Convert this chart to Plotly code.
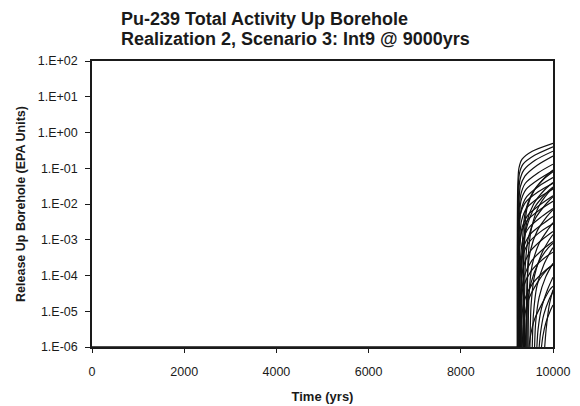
import plotly.graph_objects as go

TITLE_LINE_1 = "Pu-239 Total Activity Up Borehole"
TITLE_LINE_2 = "Realization 2, Scenario 3: Int9 @ 9000yrs"
X_TITLE = "Time (yrs)"
Y_TITLE = "Release Up Borehole (EPA Units)"

X_TICKS = [0, 2000, 4000, 6000, 8000, 10000]
Y_TICK_VALUES = [1e-6, 1e-5, 1e-4, 1e-3, 1e-2, 1e-1, 1e0, 1e1, 1e2]
Y_TICK_LABELS = ["1.E-06", "1.E-05", "1.E-04", "1.E-03", "1.E-02",
                 "1.E-01", "1.E+00", "1.E+01", "1.E+02"]

BASELINE_TIMES = [0, 9300]
BASELINE_VALUES = [1e-6, 1e-6]

CURVE_TIMES = [
    [9225, 9235, 9260, 9330, 9550, 10000],
    [9230, 9242, 9270, 9350, 9600, 10000],
    [9235, 9248, 9280, 9370, 9620, 10000],
    [9240, 9255, 9290, 9390, 9650, 10000],
    [9245, 9260, 9300, 9400, 9680, 10000],
    [9250, 9265, 9305, 9420, 9700, 10000],
    [9255, 9270, 9310, 9430, 9700, 10000],
    [9235, 9250, 9290, 9400, 9680, 10000],
    [9260, 9275, 9320, 9440, 9720, 10000],
    [9265, 9280, 9330, 9460, 9740, 10000],
    [9245, 9262, 9310, 9440, 9720, 10000],
    [9270, 9290, 9340, 9480, 9760, 10000],
    [9275, 9295, 9350, 9500, 9780, 10000],
    [9250, 9270, 9330, 9480, 9760, 10000],
    [9280, 9300, 9360, 9520, 9800, 10000],
    [9285, 9305, 9370, 9540, 9820, 10000],
    [9260, 9285, 9350, 9520, 9800, 10000],
    [9290, 9315, 9390, 9560, 9840, 10000],
    [9320, 9340, 9400, 9550, 9800, 10000],
    [9350, 9370, 9430, 9580, 9820, 10000],
    [9380, 9400, 9470, 9620, 9850, 10000],
    [9420, 9440, 9510, 9660, 9870, 10000],
    [9300, 9330, 9420, 9600, 9850, 10000],
    [9460, 9480, 9550, 9700, 9900, 10000],
    [9500, 9525, 9600, 9750, 9920, 10000],
    [9550, 9575, 9650, 9800, 9940, 10000],
    [9600, 9625, 9700, 9840, 9960, 10000],
    [9650, 9675, 9750, 9880, 10000],
    [9700, 9730, 9800, 9920, 10000],
    [9750, 9780, 9850, 9950, 10000],
    [9400, 9430, 9520, 9700, 9900, 10000],
    [9330, 9360, 9450, 9650, 9880, 10000],
    [9480, 9510, 9600, 9780, 9930, 10000],
    [9820, 9850, 9920, 10000],
    [9360, 9380, 9440, 9600, 9850, 10000],
    [9440, 9460, 9530, 9680, 9890, 10000],
]

CURVE_VALUES = [
    [1e-6, 3e-2, 1.0e-1, 1.8e-1, 3.0e-1, 5.0e-1],
    [1e-6, 2e-2, 7e-2, 1.3e-1, 2.3e-1, 4.0e-1],
    [1e-6, 1.2e-2, 4.5e-2, 9e-2, 1.7e-1, 3.0e-1],
    [1e-6, 8e-3, 3e-2, 6e-2, 1.2e-1, 2.2e-1],
    [1e-6, 5e-3, 1.8e-2, 3.8e-2, 7.5e-2, 1.3e-1],
    [1e-6, 3e-3, 1.2e-2, 2.6e-2, 5e-2, 8.5e-2],
    [1e-6, 2e-3, 7e-3, 1.6e-2, 3.2e-2, 5.5e-2],
    [1e-6, 1.5e-3, 5e-3, 1.1e-2, 2.2e-2, 3.8e-2],
    [1e-6, 1e-3, 3.5e-3, 8e-3, 1.6e-2, 2.6e-2],
    [1e-6, 6e-4, 2.2e-3, 5e-3, 1e-2, 1.7e-2],
    [1e-6, 4e-4, 1.5e-3, 3.5e-3, 7e-3, 1.2e-2],
    [1e-6, 2.5e-4, 9e-4, 2.2e-3, 4.5e-3, 7.5e-3],
    [1e-6, 1.5e-4, 5.5e-4, 1.4e-3, 2.8e-3, 4.5e-3],
    [1e-6, 8e-5, 3.2e-4, 8.5e-4, 1.8e-3, 2.8e-3],
    [1e-6, 4e-5, 1.8e-4, 5e-4, 1.1e-3, 1.7e-3],
    [1e-6, 2e-5, 9e-5, 2.6e-4, 6e-4, 9e-4],
    [1e-6, 1e-5, 4.5e-5, 1.3e-4, 3e-4, 4.5e-4],
    [1e-6, 6e-6, 2.2e-5, 6e-5, 1.4e-4, 2e-4],
    [1e-6, 1e-3, 6e-3, 2e-2, 5e-2, 8e-2],
    [1e-6, 5e-4, 3e-3, 1e-2, 2.5e-2, 4e-2],
    [1e-6, 2e-4, 1.2e-3, 4e-3, 1e-2, 1.6e-2],
    [1e-6, 8e-5, 5e-4, 1.8e-3, 4.5e-3, 7e-3],
    [1e-6, 3e-4, 2e-3, 8e-3, 2e-2, 3e-2],
    [1e-6, 3e-5, 2e-4, 8e-4, 2e-3, 3e-3],
    [1e-6, 1.5e-5, 1e-4, 4e-4, 1e-3, 1.4e-3],
    [1e-6, 8e-6, 5e-5, 2e-4, 4.5e-4, 6e-4],
    [1e-6, 5e-6, 2.5e-5, 9e-5, 1.8e-4, 2.2e-4],
    [1e-6, 3e-6, 1.2e-5, 4e-5, 9e-5],
    [1e-6, 2.5e-6, 8e-6, 2.2e-5, 3.5e-5],
    [1e-6, 2e-6, 5e-6, 1.1e-5, 1.5e-5],
    [1e-6, 1e-5, 6e-5, 2.5e-4, 6e-4, 8e-4],
    [1e-6, 4e-6, 1.8e-5, 6e-5, 1.5e-4, 2e-4],
    [1e-6, 2e-6, 6e-6, 1.8e-5, 4e-5, 5e-5],
    [1e-6, 3e-6, 1.5e-5, 4e-5],
    [1e-6, 1.5e-3, 8e-3, 2.5e-2, 6e-2, 9e-2],
    [1e-6, 3e-4, 2e-3, 8e-3, 2e-2, 2.8e-2],
]

fig = go.Figure()
fig.add_trace(go.Scatter(
    x=BASELINE_TIMES, y=BASELINE_VALUES, mode="lines",
    line=dict(color="#111111", width=1.5), showlegend=False, hoverinfo="skip",
))
for times, values in zip(CURVE_TIMES, CURVE_VALUES):
    fig.add_trace(go.Scatter(
        x=times,
        y=values,
        mode="lines",
        line=dict(color="#111111", width=1.2, shape="spline", smoothing=0.7),
        showlegend=False,
        hoverinfo="skip",
    ))

FONT = "Liberation Sans, Arial, sans-serif"
W, H = 580, 406
L, R, T, B = 76, 35, 53, 66
ph = H - T - B
pw = W - L - R
INK = "#1a1a1a"

fig.update_layout(
    width=W, height=H,
    margin=dict(l=L, r=R, t=T, b=B),
    paper_bgcolor="white", plot_bgcolor="white",
    font=dict(family=FONT, color=INK, size=12.5),
    xaxis=dict(
        range=[0, 10000], tickvals=X_TICKS, ticktext=[str(v) for v in X_TICKS],
        showgrid=False, zeroline=False, showline=True, mirror=True,
        linecolor=INK, linewidth=1.5, ticks="outside", ticklen=4,
        tickcolor=INK, tickfont=dict(size=12.5, family=FONT, color=INK),
        ticklabelstandoff=8,
        title=dict(text="<b>" + X_TITLE + "</b>", font=dict(size=13, family=FONT, color=INK), standoff=14),
    ),
    yaxis=dict(
        type="log", range=[-6, 2], tickvals=Y_TICK_VALUES, ticktext=Y_TICK_LABELS,
        showgrid=False, zeroline=False, showline=True, mirror=True,
        linecolor=INK, linewidth=1.5, ticks="outside", ticklen=5,
        tickcolor=INK, tickfont=dict(size=12.5, family=FONT, color=INK),
        ticklabelstandoff=5,
        title=dict(text="<b>" + Y_TITLE + "</b>", font=dict(size=12.5, family=FONT, color=INK), standoff=9),
    ),
    annotations=[
        dict(text="<b>" + TITLE_LINE_1 + "</b>", xref="paper", yref="paper",
             x=(103 - L) / pw, y=1 + (T - 11) / ph, xanchor="left", yanchor="middle",
             showarrow=False, font=dict(size=18, family=FONT, color=INK)),
        dict(text="<b>" + TITLE_LINE_2 + "</b>", xref="paper", yref="paper",
             x=(103 - L) / pw, y=1 + (T - 31) / ph, xanchor="left", yanchor="middle",
             showarrow=False, font=dict(size=18, family=FONT, color=INK)),
    ],
)

fig.write_html("out.html")
